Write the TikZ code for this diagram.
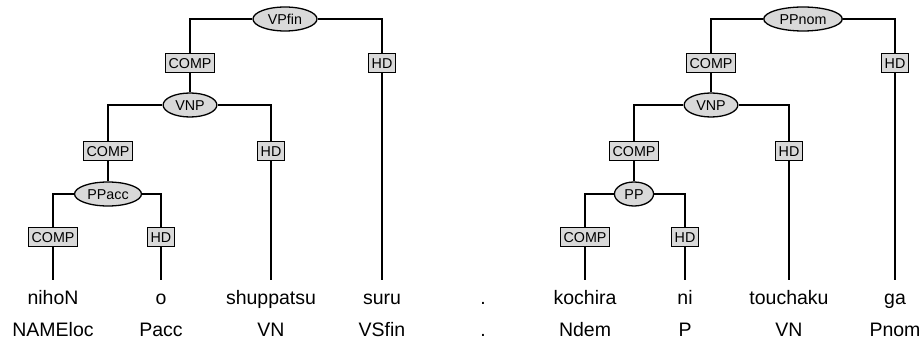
\documentclass[tikz,border=0pt]{standalone}
\usepackage{fontspec}
\setmainfont{Liberation Sans}
\usetikzlibrary{shapes.geometric}
\definecolor{boxgray}{HTML}{D9D9D9}
\begin{document}
\begin{tikzpicture}[x=1pt,y=-1pt,
  lbl/.style={font=\fontsize{14.3}{16}\selectfont, text height=10.3pt, text depth=0pt},
  cat/.style={lbl, ellipse, draw, line width=1.3pt, fill=boxgray, inner xsep=4.3pt, inner ysep=1pt, minimum height=24pt},
  rel/.style={lbl, rectangle, draw, line width=1.3pt, fill=boxgray, inner xsep=3pt, inner ysep=0pt, minimum height=19pt},
  word/.style={font=\fontsize{19.5}{22}\selectfont, anchor=base, text height=14pt, text depth=4pt, inner xsep=0pt, inner ysep=11pt},
  tag/.style={font=\fontsize{19.5}{22}\selectfont, anchor=base, inner sep=0pt},
  edge/.style={line width=1.3pt}]
\useasboundingbox (0,0) rectangle (923,344);

% ---------- left tree ----------
\node[cat, minimum width=64pt] (vpfin) at (285,19) {VPfin};
\node[rel] (c1) at (190,63) {COMP};
\node[rel] (h1) at (382,63) {HD};
\node[cat] (vnp1) at (190,105) {VNP};
\node[rel] (c2) at (108,151) {COMP};
\node[rel] (h2) at (271,151) {HD};
\node[cat, inner xsep=3pt] (ppacc) at (108,194) {PPacc};
\node[rel] (c3) at (53,237) {COMP};
\node[rel] (h3) at (161,237) {HD};

% ---------- right tree ----------
\node[cat] (ppnom) at (803,19) {PPnom};
\node[rel] (c4) at (711,63) {COMP};
\node[rel] (h4) at (895,63) {HD};
\node[cat] (vnp2) at (711,105) {VNP};
\node[rel] (c5) at (634,151) {COMP};
\node[rel] (h5) at (789,151) {HD};
\node[cat] (pp) at (634,194) {PP};
\node[rel] (c6) at (585,237) {COMP};
\node[rel] (h6) at (685,237) {HD};

% ---------- words ----------
\node[word] (w1) at (53,305) {nihoN};
\node[word] (w2) at (161,305) {o};
\node[word] (w3) at (271,305) {shuppatsu};
\node[word] (w4) at (382,305) {suru};
\node[word] (w5) at (483,305) {.};
\node[word] (w6) at (585,305) {kochira};
\node[word] (w7) at (685,305) {ni};
\node[word] (w8) at (789,305) {touchaku};
\node[word] (w9) at (895,305) {ga};

\node[tag] (t1) at (53,337) {NAMEloc};
\node[tag] (t2) at (161,337) {Pacc};
\node[tag] (t3) at (271,337) {VN};
\node[tag] (t4) at (382,337) {VSfin};
\node[tag] (t5) at (483,337) {.};
\node[tag] (t6) at (585,337) {Ndem};
\node[tag] (t7) at (685,337) {P};
\node[tag] (t8) at (789,337) {VN};
\node[tag] (t9) at (895,337) {Pnom};

% ---------- connectors ----------
\draw[edge] (vpfin.west) -| (c1.north);
\draw[edge] (vpfin.east) -| (h1.north);
\draw[edge] (c1.south) -- (vnp1.north);
\draw[edge] (h1.south) -- (w4.north);
\draw[edge] (vnp1.west) -| (c2.north);
\draw[edge] (vnp1.east) -| (h2.north);
\draw[edge] (c2.south) -- (ppacc.north);
\draw[edge] (h2.south) -- (w3.north);
\draw[edge] (ppacc.west) -| (c3.north);
\draw[edge] (ppacc.east) -| (h3.north);
\draw[edge] (c3.south) -- (w1.north);
\draw[edge] (h3.south) -- (w2.north);

\draw[edge] (ppnom.west) -| (c4.north);
\draw[edge] (ppnom.east) -| (h4.north);
\draw[edge] (c4.south) -- (vnp2.north);
\draw[edge] (h4.south) -- (w9.north);
\draw[edge] (vnp2.west) -| (c5.north);
\draw[edge] (vnp2.east) -| (h5.north);
\draw[edge] (c5.south) -- (pp.north);
\draw[edge] (h5.south) -- (w8.north);
\draw[edge] (pp.west) -| (c6.north);
\draw[edge] (pp.east) -| (h6.north);
\draw[edge] (c6.south) -- (w6.north);
\draw[edge] (h6.south) -- (w7.north);
\end{tikzpicture}
\end{document}
